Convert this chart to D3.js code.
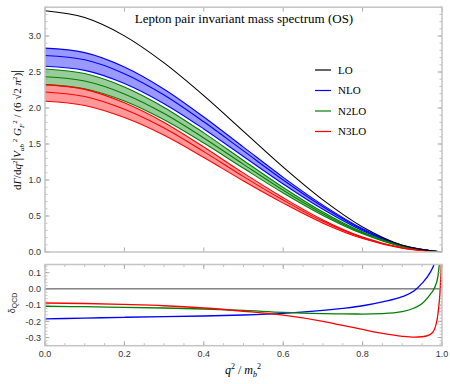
<!DOCTYPE html>
<html><head><meta charset="utf-8">
<script src="https://cdn.jsdelivr.net/npm/d3@7"></script>
<style>body{margin:0;background:#fff}svg{display:block}</style>
</head><body>
<svg id="c" width="450" height="384"></svg>
<script>
// ---------- data ----------
const xGrid = [0,0.1,0.2,0.3,0.4,0.5,0.6,0.7,0.8,0.9,1.0];
const LO      = [3.35,3.256,3.002,2.626,2.171,1.675,1.179,0.724,0.348,0.094,0];
const NLO     = [2.730,2.670,2.477,2.180,1.808,1.404,1.000,0.628,0.312,0.090,0];
const NLO_hi  = [2.831,2.769,2.569,2.261,1.875,1.456,1.037,0.651,0.324,0.093,0];
const NLO_lo  = [2.580,2.523,2.341,2.060,1.709,1.327,0.945,0.593,0.295,0.085,0];
const N2LO    = [2.435,2.374,2.195,1.923,1.584,1.217,0.858,0.532,0.264,0.077,0];
const N2LO_hi = [2.542,2.478,2.292,2.008,1.654,1.271,0.896,0.555,0.276,0.080,0];
const N2LO_lo = [2.325,2.267,2.096,1.836,1.513,1.162,0.819,0.508,0.252,0.074,0];
const N3LO    = [2.223,2.160,1.982,1.721,1.394,1.047,0.721,0.426,0.198,0.055,0];
const N3LO_hi = [2.325,2.259,2.073,1.800,1.458,1.095,0.754,0.446,0.207,0.058,0];
const N3LO_lo = [2.094,2.035,1.867,1.621,1.313,0.986,0.679,0.401,0.187,0.052,0];

const dNLO_x  = [0,0.1,0.2,0.3,0.4,0.5,0.6,0.7,0.75,0.8,0.85,0.9,0.93,0.95,0.97,0.98,0.99];
const dNLO    = [-0.185,-0.18,-0.175,-0.171,-0.167,-0.161,-0.151,-0.133,-0.12,-0.104,-0.08,-0.048,-0.012,0.035,0.1,0.15,0.24];
const dN2LO_x = [0,0.1,0.2,0.3,0.4,0.5,0.6,0.7,0.75,0.8,0.85,0.9,0.93,0.95,0.97,0.98,0.99,0.995];
const dN2LO   = [-0.107,-0.11,-0.114,-0.118,-0.124,-0.133,-0.145,-0.152,-0.154,-0.155,-0.152,-0.14,-0.118,-0.09,-0.035,0.0,0.08,0.2];
const dN3LO_x = [0,0.1,0.2,0.3,0.4,0.5,0.6,0.7,0.75,0.8,0.85,0.9,0.93,0.95,0.97,0.98,0.99,0.995,1.0];
const dN3LO   = [-0.087,-0.09,-0.096,-0.104,-0.118,-0.138,-0.162,-0.2,-0.225,-0.25,-0.274,-0.292,-0.297,-0.295,-0.282,-0.255,-0.15,-0.02,0.25];

const xTicks    = [0,0.2,0.4,0.6,0.8,1.0];
const yTopTicks = [0,0.5,1.0,1.5,2.0,2.5,3.0];
const yBotTicks = [-0.3,-0.2,-0.1,0.0,0.1];
const legendNames = ["LO","NLO","N2LO","N3LO"];
const legendColors = ["#000000","#0000ff","#008000","#ff0000"];

// ---------- layout ----------
const svg = d3.select("#c");
const x = d3.scaleLinear([0,1],[45,442]);
const yT = d3.scaleLinear([0,3.4],[252,7.2]);
const yB = d3.scaleLinear([-0.35,0.15],[345.7,264.5]);
const frameCol = "#c4c4c4", tickCol = "#999", labCol = "#333";
const sans = "Liberation Sans, Arial, sans-serif";
const serif = "Liberation Serif, Times New Roman, serif";

const defs = svg.append("defs");
defs.append("clipPath").attr("id","clipT").append("rect")
  .attr("x",x(0)).attr("y",yT(3.4)).attr("width",x(1)-x(0)).attr("height",yT(0)-yT(3.4));
defs.append("clipPath").attr("id","clipB").append("rect")
  .attr("x",x(0)).attr("y",yB(0.15)).attr("width",x(1)-x(0)).attr("height",yB(-0.35)-yB(0.15));

// ---------- ticks helper ----------
function frame(y, yMin, yMax, yMajor, yMinorStep, xMinorStep, showYLabels, fmtY){
  const g = svg.append("g");
  const x0=x(0), x1=x(1), yb=y(yMin), yt=y(yMax);
  for(let v=Math.ceil(yMin/yMinorStep-1e-9)*yMinorStep; v<=yMax+1e-9; v+=yMinorStep){
    const py=y(v);
    g.append("line").attr("x1",x0).attr("x2",x0+2.5).attr("y1",py).attr("y2",py).attr("stroke",tickCol).attr("stroke-width",0.6);
    g.append("line").attr("x1",x1).attr("x2",x1-2.5).attr("y1",py).attr("y2",py).attr("stroke",tickCol).attr("stroke-width",0.6);
  }
  yMajor.forEach(v=>{
    const py=y(v);
    g.append("line").attr("x1",x0).attr("x2",x0+4.5).attr("y1",py).attr("y2",py).attr("stroke",tickCol).attr("stroke-width",0.8);
    g.append("line").attr("x1",x1).attr("x2",x1-4.5).attr("y1",py).attr("y2",py).attr("stroke",tickCol).attr("stroke-width",0.8);
    if(showYLabels) g.append("text").attr("x",x0-4).attr("y",py+3.2).attr("text-anchor","end")
      .attr("font-family",sans).attr("font-size",9).attr("fill",labCol).text(fmtY(v));
  });
  if(xMinorStep){
    for(let v=0; v<=1+1e-9; v+=xMinorStep){
      const px=x(v);
      g.append("line").attr("x1",px).attr("x2",px).attr("y1",yb).attr("y2",yb-2.5).attr("stroke",tickCol).attr("stroke-width",0.6);
      g.append("line").attr("x1",px).attr("x2",px).attr("y1",yt).attr("y2",yt+2.5).attr("stroke",tickCol).attr("stroke-width",0.6);
    }
  }
  xTicks.forEach(v=>{
    const px=x(v);
    g.append("line").attr("x1",px).attr("x2",px).attr("y1",yb).attr("y2",yb-4.5).attr("stroke",tickCol).attr("stroke-width",0.8);
    g.append("line").attr("x1",px).attr("x2",px).attr("y1",yt).attr("y2",yt+4.5).attr("stroke",tickCol).attr("stroke-width",0.8);
  });
  g.append("rect").attr("x",x0).attr("y",yt).attr("width",x1-x0).attr("height",yb-yt)
    .attr("fill","none").attr("stroke",frameCol).attr("stroke-width",1.5);
  return g;
}

// ---------- top panel ----------
const curve = d3.curveMonotoneX;
const topG = svg.append("g").attr("clip-path","url(#clipT)");
const bands = [
  {hi:NLO_hi, lo:NLO_lo, c:NLO, col:"#0000ff", fill:"rgba(0,0,255,0.4)"},
  {hi:N2LO_hi, lo:N2LO_lo, c:N2LO, col:"#008000", fill:"rgba(0,128,0,0.4)"},
  {hi:N3LO_hi, lo:N3LO_lo, c:N3LO, col:"#ff0000", fill:"rgba(255,0,0,0.4)"}
];
const area = d3.area().x((d,i)=>x(xGrid[i])).y0(d=>yT(d[0])).y1(d=>yT(d[1])).curve(curve);
const line = d3.line().x((d,i)=>x(xGrid[i])).y(d=>yT(d)).curve(curve);
bands.forEach(b=>{
  topG.append("path").attr("d",area(b.lo.map((v,i)=>[v,b.hi[i]]))).attr("fill",b.fill).attr("stroke","none");
});
bands.forEach(b=>{
  [b.hi,b.c,b.lo].forEach(arr=>{
    topG.append("path").attr("d",line(arr)).attr("fill","none").attr("stroke",b.col).attr("stroke-width",1.1);
  });
});
topG.append("path").attr("d",line(LO)).attr("fill","none").attr("stroke","#000").attr("stroke-width",1.1);

frame(yT, 0, 3.4, yTopTicks, 0.1, 0, true, d3.format(".1f"));

// title
svg.append("text").attr("x",244).attr("y",22.5).attr("text-anchor","middle")
  .attr("font-family",serif).attr("font-size",13).attr("fill","#000")
  .text("Lepton pair invariant mass spectrum (OS)");

// legend
legendNames.forEach((n,i)=>{
  const py = 70 + i*20.5;
  svg.append("line").attr("x1",315).attr("x2",331).attr("y1",py).attr("y2",py)
    .attr("stroke",legendColors[i]).attr("stroke-width",1.2);
  svg.append("text").attr("x",338).attr("y",py+3.8).attr("font-family",serif)
    .attr("font-size",11).attr("fill","#000").text(n);
});

// y label top
const yl = svg.append("text").attr("transform","translate(21,130) rotate(-90)")
  .attr("text-anchor","middle").attr("font-family",serif).attr("font-size",11).attr("fill","#000");
yl.append("tspan").text("d");
yl.append("tspan").attr("font-style","italic").text("Γ");
yl.append("tspan").text("/d");
yl.append("tspan").attr("font-style","italic").text("q");
yl.append("tspan").attr("font-size",7).attr("dy",-4).text("2");
yl.append("tspan").attr("dy",4).attr("font-size",14).text("|");
yl.append("tspan").attr("font-style","italic").text("V");
yl.append("tspan").attr("font-size",7).attr("dy",2.5).attr("font-style","italic").text("ub");
yl.append("tspan").attr("font-size",7).attr("dy",-7).text(" 2");
yl.append("tspan").attr("dy",4.5).text(" ");
yl.append("tspan").attr("font-style","italic").text("G");
yl.append("tspan").attr("font-size",7).attr("dy",2.5).attr("font-style","italic").text("F");
yl.append("tspan").attr("font-size",7).attr("dy",-7).text("2");
yl.append("tspan").attr("dy",4.5).text(" / (6 √2 ");
yl.append("tspan").attr("font-style","italic").text("π");
yl.append("tspan").attr("font-size",7).attr("dy",-4).text("2");
yl.append("tspan").attr("dy",4).text(")");
yl.append("tspan").attr("font-size",14).text("|");

// ---------- bottom panel ----------
const botG = svg.append("g").attr("clip-path","url(#clipB)");
botG.append("line").attr("x1",x(0)).attr("x2",x(1)).attr("y1",yB(0)).attr("y2",yB(0))
  .attr("stroke","#444").attr("stroke-width",1);
const dl = (xs)=> d3.line().x((d,i)=>x(xs[i])).y(d=>yB(d)).curve(curve);
botG.append("path").attr("d",dl(dNLO_x)(dNLO)).attr("fill","none").attr("stroke","#0000ff").attr("stroke-width",1.3);
botG.append("path").attr("d",dl(dN2LO_x)(dN2LO)).attr("fill","none").attr("stroke","#008000").attr("stroke-width",1.3);
botG.append("path").attr("d",dl(dN3LO_x)(dN3LO)).attr("fill","none").attr("stroke","#ff0000").attr("stroke-width",1.3);

frame(yB, -0.35, 0.15, yBotTicks, 0.02, 0.05, true, d=>d3.format(".1f")(d).replace("−","-"));

// x tick labels (bottom)
xTicks.forEach(v=>{
  svg.append("text").attr("x",x(v)).attr("y",357).attr("text-anchor","middle")
    .attr("font-family",sans).attr("font-size",9).attr("fill",labCol).text(d3.format(".1f")(v));
});

// x label
const xl = svg.append("text").attr("x",243).attr("y",374).attr("text-anchor","middle")
  .attr("font-family",serif).attr("font-size",12).attr("fill","#000");
xl.append("tspan").attr("font-style","italic").text("q");
xl.append("tspan").attr("font-size",8).attr("dy",-5).text("2");
xl.append("tspan").attr("dy",5).text(" / ");
xl.append("tspan").attr("font-style","italic").text("m");
xl.append("tspan").attr("font-size",8).attr("dy",2.5).attr("font-style","italic").text("b");
xl.append("tspan").attr("font-size",8).attr("dy",-7.5).text("2");

// y label bottom
const yl2 = svg.append("text").attr("transform","translate(15,303) rotate(-90)")
  .attr("text-anchor","middle").attr("font-family",sans).attr("font-size",9).attr("fill","#333");
yl2.append("tspan").text("δ");
yl2.append("tspan").attr("font-size",7).attr("dy",2).text("QCD");
</script>
</body></html>
